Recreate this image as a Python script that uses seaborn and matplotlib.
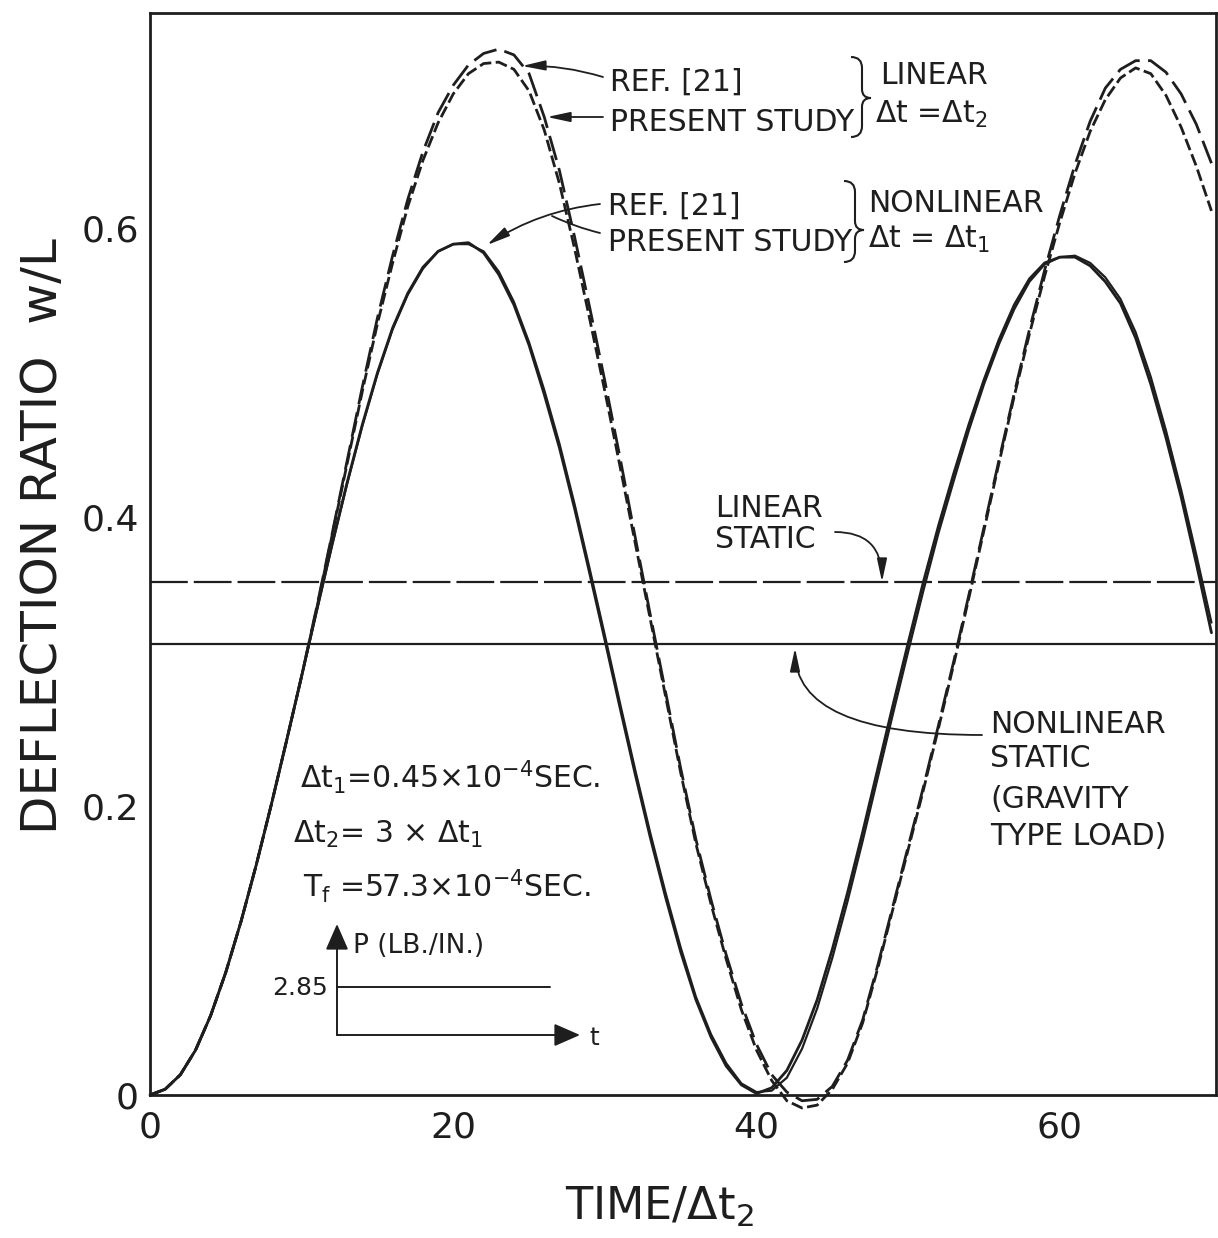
import matplotlib
matplotlib.use("Agg")
import matplotlib.pyplot as plt
import numpy as np
import pandas as pd
import seaborn as sns
from matplotlib.path import Path
from matplotlib.patches import PathPatch

# ---------------- data ----------------
time = list(range(0, 71))

nonlinear_ref = [0.000, 0.004, 0.014, 0.031, 0.055, 0.085, 0.120, 0.159, 0.201, 0.245,
                 0.290, 0.336, 0.381, 0.424, 0.464, 0.500, 0.531, 0.555, 0.573, 0.584,
                 0.589, 0.590, 0.583, 0.568, 0.547, 0.519, 0.485, 0.448, 0.406, 0.361,
                 0.315, 0.268, 0.222, 0.178, 0.137, 0.099, 0.066, 0.040, 0.020, 0.007,
                 0.001, 0.005, 0.017, 0.038, 0.066, 0.101, 0.140, 0.182, 0.226, 0.270,
                 0.313, 0.355, 0.394, 0.430, 0.464, 0.495, 0.523, 0.547, 0.565, 0.576,
                 0.580, 0.580, 0.574, 0.563, 0.548, 0.524, 0.492, 0.455, 0.414, 0.368,
                 0.320]

nonlinear_present = [0.000, 0.004, 0.014, 0.031, 0.055, 0.085, 0.120, 0.159, 0.201, 0.245,
                     0.290, 0.335, 0.380, 0.423, 0.463, 0.499, 0.530, 0.554, 0.572, 0.584,
                     0.589, 0.589, 0.584, 0.570, 0.549, 0.521, 0.488, 0.451, 0.409, 0.364,
                     0.318, 0.271, 0.225, 0.181, 0.140, 0.102, 0.068, 0.042, 0.022, 0.008,
                     0.002, 0.003, 0.012, 0.032, 0.060, 0.095, 0.134, 0.176, 0.220, 0.264,
                     0.307, 0.349, 0.389, 0.425, 0.460, 0.492, 0.520, 0.544, 0.563, 0.575,
                     0.580, 0.581, 0.576, 0.566, 0.551, 0.528, 0.497, 0.460, 0.419, 0.374,
                     0.327]

linear_ref = [0.000, 0.004, 0.014, 0.031, 0.055, 0.085, 0.120, 0.159, 0.201, 0.245,
              0.290, 0.338, 0.388, 0.439, 0.490, 0.538, 0.581, 0.620, 0.653, 0.680,
              0.699, 0.713, 0.721, 0.724, 0.720, 0.707, 0.677, 0.640, 0.594, 0.545,
              0.494, 0.441, 0.386, 0.332, 0.279, 0.226, 0.177, 0.135, 0.097, 0.063,
              0.035, 0.014, 0.002, -0.004, -0.003, 0.006, 0.024, 0.052, 0.090, 0.131,
              0.172, 0.213, 0.256, 0.300, 0.346, 0.393, 0.440, 0.486, 0.530, 0.571,
              0.609, 0.644, 0.674, 0.697, 0.710, 0.716, 0.716, 0.708, 0.693, 0.672,
              0.645]

linear_present = [0.000, 0.004, 0.014, 0.031, 0.055, 0.085, 0.120, 0.159, 0.201, 0.245,
                  0.290, 0.337, 0.387, 0.437, 0.487, 0.534, 0.576, 0.615, 0.647, 0.673,
                  0.693, 0.707, 0.714, 0.715, 0.710, 0.695, 0.668, 0.631, 0.586, 0.537,
                  0.487, 0.435, 0.382, 0.329, 0.276, 0.223, 0.174, 0.132, 0.094, 0.059,
                  0.031, 0.010, -0.004, -0.009, -0.007, 0.004, 0.022, 0.050, 0.088, 0.129,
                  0.170, 0.211, 0.254, 0.298, 0.344, 0.391, 0.438, 0.484, 0.527, 0.567,
                  0.604, 0.638, 0.667, 0.689, 0.704, 0.711, 0.707, 0.692, 0.670, 0.643,
                  0.612]

linear_static = 0.355
nonlinear_static = 0.312

x_ticks = [0, 20, 40, 60]
x_tick_labels = ["0", "20", "40", "60"]
y_ticks = [0, 0.2, 0.4, 0.6]
y_tick_labels = ["0", "0.2", "0.4", "0.6"]
load_label = "2.85"

# ---------------- style ----------------
sns.set_style("white")
plt.rcParams["font.family"] = ["DejaVu Sans"]
plt.rcParams["mathtext.fontset"] = "dejavusans"
plt.rcParams["mathtext.default"] = "regular"

INK = "#1e1e1e"
W, H = 1218, 1238

fig = plt.figure(figsize=(W / 100, H / 100), dpi=100)
fig.patch.set_facecolor("white")
ax = fig.add_axes([150 / W, 1 - 1095 / H, (1216 - 150) / W, (1095 - 13) / H])
ax.set_facecolor("white")

df = pd.DataFrame({
    "time": time,
    "linear_ref": linear_ref,
    "linear_present": linear_present,
    "nonlinear_ref": nonlinear_ref,
    "nonlinear_present": nonlinear_present,
})

series_styles = [
    ("nonlinear_ref", "-", 2.0),
    ("nonlinear_present", "-", 1.6),
    ("linear_ref", (0, (9, 3)), 2.0),
    ("linear_present", (0, (4.3, 1.6)), 2.0),
]
for col, ls, lw in series_styles:
    sns.lineplot(data=df, x="time", y=col, ax=ax, color=INK, linewidth=lw,
                 estimator=None, sort=False, clip_on=False)
    ax.lines[-1].set_linestyle(ls)

ax.axhline(linear_static, color=INK, lw=1.6, ls=(0, (17, 2.7)))
ax.axhline(nonlinear_static, color=INK, lw=1.6)

ax.set_xlim(0, 70.3)
ax.set_ylim(0, 0.749)
ax.set_xticks(x_ticks)
ax.set_xticklabels(x_tick_labels)
ax.set_yticks(y_ticks)
ax.set_yticklabels(y_tick_labels)
ax.tick_params(direction="in", length=26, width=1.5, color=INK, labelcolor=INK,
               labelsize=26)
ax.tick_params(axis="x", pad=11)
ax.tick_params(axis="y", pad=8)
for s in ax.spines.values():
    s.set_linewidth(2.0)
    s.set_color(INK)
    s.set_visible(True)

ax.set_ylabel("DEFLECTION RATIO  w/L", fontsize=36, color=INK)
ax.yaxis.set_label_coords(-0.078, 0.517)
ax.set_xlabel(r"TIME/$\Delta$t$_2$", fontsize=32, color=INK)
ax.xaxis.set_label_coords(0.478, -0.083)


# ---------------- annotations (positions in reference pixels) ----------------
def fp(px, py):
    return (px / W, 1 - py / H)


def label(px, py, s, size=21.5, ha="left"):
    fig.text(*fp(px, py), s, fontsize=size, ha=ha, va="baseline", color=INK)


label(610, 91, "REF. [21]")
label(610, 131, "PRESENT STUDY")
label(880, 84, "LINEAR")
label(875, 123, r"$\Delta$t =$\Delta$t$_2$")
label(608, 215, "REF. [21]")
label(608, 251, "PRESENT STUDY")
label(868, 212, "NONLINEAR")
label(868, 248, r"$\Delta$t = $\Delta$t$_1$")
label(715, 517, "LINEAR")
label(715, 548, "STATIC")
label(990, 733, "NONLINEAR")
label(990, 767, "STATIC")
label(990, 808, "(GRAVITY")
label(990, 845, "TYPE LOAD)")
label(300, 788, r"$\Delta$t$_1$=0.45$\times$10$^{-4}$SEC.")
label(293, 843, r"$\Delta$t$_2$= 3 $\times$ $\Delta$t$_1$")
label(303, 897, r"T$_f$ =57.3$\times$10$^{-4}$SEC.")
label(353, 953, "P (LB./IN.)", size=19)
label(328, 995, load_label, size=18, ha="right")
label(589, 1045, "t", size=18)


def arrow(p_from, p_to, cs="arc3,rad=0", head=True, lw=1.3,
          style="-|>,head_length=0.7,head_width=0.15", ms=20):
    ax.annotate("", xy=fp(*p_to), xycoords="figure fraction",
                xytext=fp(*p_from), textcoords="figure fraction",
                arrowprops=dict(arrowstyle=style if head else "-", color=INK, lw=lw,
                                shrinkA=0, shrinkB=0, mutation_scale=ms,
                                connectionstyle=cs))


# leaders for the curves
arrow((603, 77), (522, 66), "arc3,rad=0.08")
arrow((603, 117), (547, 117), "arc3,rad=0")
arrow((600, 204), (487, 245), "arc3,rad=0.12")
arrow((600, 233), (552, 216), "arc3,rad=-0.05", head=False)
# static leaders
arrow((835, 532), (882, 582), "angle3,angleA=0,angleB=90")
arrow((982, 735), (795, 648), "angle3,angleA=0,angleB=90")

# load diagram
arrow((337, 1035), (337, 924), style="-|>,head_length=0.8,head_width=0.35", ms=20, lw=1.4)
arrow((337, 1035), (580, 1035), style="-|>,head_length=0.8,head_width=0.35", ms=20, lw=1.4)
arrow((337, 987), (550, 987), head=False, lw=1.4)


# braces
def brace(x_stem, y_top, y_bot, y_tip, hook=11, tip=9):
    pts = [
        (x_stem - hook, y_top),
        (x_stem, y_top), (x_stem, y_top + hook),
        (x_stem, y_tip - hook * 0.8),
        (x_stem, y_tip), (x_stem + tip, y_tip),
        (x_stem, y_tip), (x_stem, y_tip + hook * 0.8),
        (x_stem, y_bot - hook),
        (x_stem, y_bot), (x_stem - hook, y_bot),
    ]
    codes = [Path.MOVETO, Path.CURVE3, Path.CURVE3, Path.LINETO,
             Path.CURVE3, Path.CURVE3, Path.CURVE3, Path.CURVE3,
             Path.LINETO, Path.CURVE3, Path.CURVE3]
    verts = [fp(x, y) for x, y in pts]
    fig.patches.append(PathPatch(Path(verts, codes), transform=fig.transFigure,
                                 fill=False, edgecolor=INK, lw=1.5))


brace(862, 57, 137, 98)
brace(855, 181, 262, 230)

fig.savefig("out.png", dpi=100, facecolor="white")
